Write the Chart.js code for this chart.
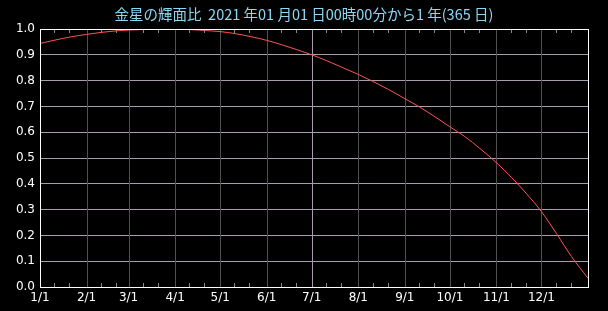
<!DOCTYPE html>
<html>
<head>
<meta charset="utf-8">
<script src="https://cdn.jsdelivr.net/npm/chart.js@4/dist/chart.umd.min.js"></script>
<style>
    html, body { margin: 0; padding: 0; background: #000; }
    #wrap { width: 608px; height: 311px; }
</style>
</head>
<body>
<div id="wrap"><canvas id="chart" width="608" height="311"></canvas></div>
<script>
const TITLE = '金星の輝面比  2021 年01 月01 日00時00分から1 年(365 日)';

// month starts (day of year, 0 = 1/1) and their labels
const monthDays = [0, 31, 59, 90, 120, 151, 181, 212, 243, 273, 304, 334];
const monthLabels = ['1/1', '2/1', '3/1', '4/1', '5/1', '6/1', '7/1', '8/1', '9/1', '10/1', '11/1', '12/1'];
const yTicks = [0, 0.1, 0.2, 0.3, 0.4, 0.5, 0.6, 0.7, 0.8, 0.9, 1.0];

// illuminated fraction (1st, 11th, 21st of each month)
const sampleDays = [0, 10, 20, 31, 41, 51, 59, 69, 79, 90, 100, 110, 120, 130, 140,
    151, 161, 171, 181, 191, 201, 212, 222, 232, 243, 253, 263, 273, 283, 293,
    304, 314, 324, 334, 344, 354, 365];
const illuminated = [0.944, 0.957, 0.969, 0.979, 0.987, 0.993, 0.996, 0.998, 1.000, 1.000, 0.998, 0.994,
    0.990, 0.982, 0.971, 0.956, 0.939, 0.920, 0.900, 0.877, 0.852, 0.824, 0.796, 0.766,
    0.730, 0.697, 0.660, 0.621, 0.583, 0.537, 0.482, 0.425, 0.362, 0.292, 0.207, 0.118, 0.034];

const minorOffsets = [9.5, 19.5];

const frame = {
    id: 'frame',
    beforeDraw(chart) {
        const c = chart.ctx;
        c.save();
        c.fillStyle = '#000';
        c.fillRect(0, 0, chart.width, chart.height);
        c.restore();
    },
    beforeDatasetsDraw(chart) {
        // month grid lines: dark grey, 7/1 lighter
        const c = chart.ctx, a = chart.chartArea, xs = chart.scales.x;
        c.save();
        c.lineWidth = 1;
        monthDays.forEach(function(d, i) {
            if (i === 0) return;
            var x = Math.round(xs.getPixelForValue(d)) + 0.5;
            c.strokeStyle = i === 6 ? '#a89cb0' : '#505050';
            c.beginPath();
            c.moveTo(x, a.top); c.lineTo(x, a.bottom);
            c.stroke();
        });
        c.restore();
    },
    afterDraw(chart) {
        const c = chart.ctx, a = chart.chartArea, xs = chart.scales.x;
        c.save();
        // minor ticks on top and bottom edges
        c.strokeStyle = '#8a8a8a';
        c.lineWidth = 1;
        c.beginPath();
        monthDays.forEach(function(d) {
            minorOffsets.forEach(function(o) {
                var x = Math.round(xs.getPixelForValue(d + o)) + 0.5;
                c.moveTo(x, a.top); c.lineTo(x, a.top + 4);
                c.moveTo(x, a.bottom); c.lineTo(x, a.bottom - 4);
            });
        });
        c.stroke();
        // box
        c.strokeStyle = '#ffffff';
        c.strokeRect(Math.round(a.left) + 0.5, Math.round(a.top) + 0.5, Math.round(a.right - a.left), Math.round(a.bottom - a.top));
        // title
        c.fillStyle = '#8cd8f4';
        c.font = '14.5px "Noto Sans CJK JP", sans-serif';
        c.textAlign = 'center';
        c.textBaseline = 'middle';
        c.fillText(TITLE, 304, 14);
        c.restore();
    }
};

new Chart(document.getElementById('chart'), {
    type: 'line',
    data: {
        datasets: [{
            data: sampleDays.map(function(d, i) { return { x: d, y: illuminated[i] }; }),
            borderColor: '#ff5454',
            borderWidth: 1,
            pointRadius: 0,
            cubicInterpolationMode: 'monotone',
            fill: false
        }]
    },
    options: {
        responsive: false,
        animation: false,
        events: [],
        layout: { padding: { left: 0, right: 20, top: 29, bottom: 0 } },
        plugins: { legend: { display: false }, tooltip: { enabled: false }, title: { display: false } },
        scales: {
            x: {
                type: 'linear', min: 0, max: 365,
                afterFit: function(s) { s.height = 24; },
                afterBuildTicks: function(s) { s.ticks = monthDays.map(function(v) { return { value: v }; }); },
                border: { display: false },
                grid: { drawTicks: false, color: 'rgba(0,0,0,0)' },
                ticks: {
                    padding: 4, color: '#ffffff', maxRotation: 0, autoSkip: false,
                    font: { family: 'DejaVu Sans', size: 12 },
                    callback: function(v, i) { return monthLabels[i]; }
                }
            },
            y: {
                min: 0, max: 1,
                afterFit: function(s) { s.width = 40; },
                afterBuildTicks: function(s) { s.ticks = yTicks.map(function(v) { return { value: v }; }); },
                border: { display: false },
                grid: { drawTicks: false, color: '#a89cb0' },
                ticks: {
                    padding: 5, color: '#ffffff',
                    font: { family: 'DejaVu Sans', size: 12 },
                    callback: function(v) { return v.toFixed(1); }
                }
            }
        }
    },
    plugins: [frame]
});
</script>
</body>
</html>
